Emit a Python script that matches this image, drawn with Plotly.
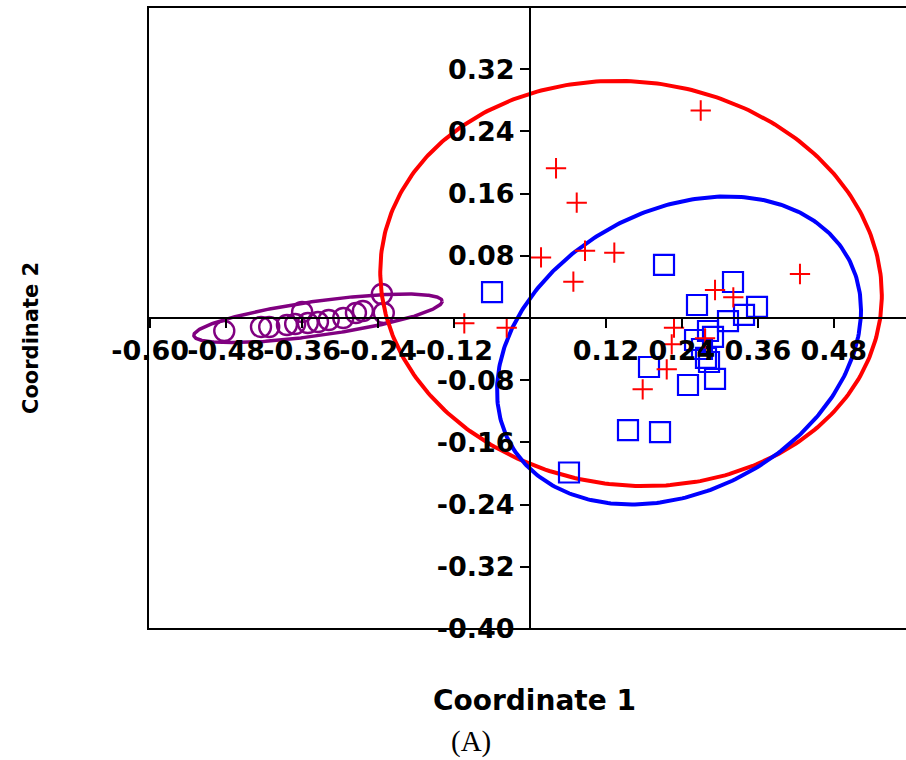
import numpy as np
import plotly.graph_objects as go

# ---- data ----
purple_x = [-0.483, -0.425, -0.412, -0.384, -0.371, -0.360, -0.351, -0.335, -0.318, -0.295, -0.275, -0.264, -0.234, -0.231]
purple_y = [-0.0167, -0.0116, -0.0116, -0.0090, -0.0077, 0.0077, -0.0064, -0.0051, -0.0026, 0.0000, 0.0064, 0.0090, 0.0309, 0.0064]

red_x = [0.2697, 0.0411, 0.0738, 0.0174, 0.0869, 0.1332, 0.0685, -0.1038, -0.0368, 0.4265, 0.2923, 0.3212, 0.2275, 0.2239, 0.2160, 0.1780, 0.2765]
red_y = [0.2669, 0.1926, 0.1483, 0.0779, 0.0865, 0.0840, 0.0467, -0.0069, -0.0125, 0.0566, 0.0360, 0.0266, -0.0125, -0.0338, -0.0660, -0.0917, -0.0261]

blue_x = [0.2117, -0.0600, 0.3207, 0.2638, 0.3586, 0.3381, 0.3128, 0.2812, 0.2607, 0.2891, 0.2780, 0.2828, 0.1880, 0.2923, 0.2496, 0.1548, 0.2054, 0.0616, 0.2717]
blue_y = [0.0682, 0.0334, 0.0463, 0.0167, 0.0142, 0.0039, -0.0039, -0.0167, -0.0283, -0.0244, -0.0514, -0.0566, -0.0630, -0.0784, -0.0862, -0.1441, -0.1467, -0.1987, -0.0399]

# ellipse parameters: center (x, y) and covariance (sxx, syy, sxy)
purple_center = [-0.3349, -0.0004]
purple_cov = [0.0385, 0.000977, 0.004287]
red_center = [0.1596, 0.0444]
red_cov = [0.15698, 0.0679, -0.005887]
blue_center = [0.2354, -0.0418]
blue_cov = [0.08267, 0.03923, 0.014955]

x_tickvals = [-0.60, -0.48, -0.36, -0.24, -0.12, 0.12, 0.24, 0.36, 0.48]
x_ticktext = ["-0.60", "-0.48", "-0.36", "-0.24", "-0.12", "0.12", "0.24", "0.36", "0.48"]
y_tickvals = [-0.40, -0.32, -0.24, -0.16, -0.08, 0.08, 0.16, 0.24, 0.32]
y_ticktext = ["-0.40", "-0.32", "-0.24", "-0.16", "-0.08", "0.08", "0.16", "0.24", "0.32"]

x_range = [-0.6035, 0.594]
y_range = [-0.40, 0.40]


def ellipse(center, cov, n=361):
    sxx, syy, sxy = cov
    l11 = np.sqrt(sxx)
    l21 = sxy / l11
    l22 = np.sqrt(syy - l21 ** 2)
    t = np.linspace(0, 2 * np.pi, n)
    u, v = np.cos(t), np.sin(t)
    return center[0] + l11 * u, center[1] + l21 * u + l22 * v


fig = go.Figure()

ex, ey = ellipse(purple_center, purple_cov)
fig.add_trace(go.Scatter(x=ex, y=ey, mode="lines", line=dict(color="#800080", width=3.5), hoverinfo="skip"))
fig.add_trace(go.Scatter(x=purple_x, y=purple_y, mode="markers",
                         marker=dict(symbol="circle-open", size=20, color="#800080", line=dict(width=2.4, color="#800080"))))

ex, ey = ellipse(red_center, red_cov)
fig.add_trace(go.Scatter(x=ex, y=ey, mode="lines", line=dict(color="#FF0000", width=4), hoverinfo="skip"))
ex, ey = ellipse(blue_center, blue_cov)
fig.add_trace(go.Scatter(x=ex, y=ey, mode="lines", line=dict(color="#0000FF", width=4), hoverinfo="skip"))

fig.add_trace(go.Scatter(x=blue_x, y=blue_y, mode="markers",
                         marker=dict(symbol="square-open", size=20, color="#0000FF", line=dict(width=2.2, color="#0000FF"))))
fig.add_trace(go.Scatter(x=red_x, y=red_y, mode="markers",
                         marker=dict(symbol="cross-thin-open", size=14.5, color="#FF0000", line=dict(width=2, color="#FF0000"))))

x_zero_pos = (0 - x_range[0]) / (x_range[1] - x_range[0])
y_zero_pos = (0 - y_range[0]) / (y_range[1] - y_range[0])

tick_font = dict(family="DejaVu Sans", size=27, color="black", weight="bold")

fig.update_layout(
    width=906, height=760,
    margin=dict(l=148, r=0, t=7, b=131),
    paper_bgcolor="white", plot_bgcolor="white",
    showlegend=False,
    xaxis=dict(range=x_range, anchor="free", position=y_zero_pos, showgrid=False, zeroline=False,
               showline=True, linecolor="black", linewidth=2,
               ticks="outside", ticklen=9, tickwidth=2, tickcolor="black",
               tickvals=x_tickvals, ticktext=x_ticktext, tickangle=0, tickfont=tick_font),
    yaxis=dict(range=y_range, anchor="free", position=x_zero_pos, showgrid=False, zeroline=False,
               showline=True, linecolor="black", linewidth=2,
               ticks="outside", ticklen=9, tickwidth=2, tickcolor="black",
               tickvals=y_tickvals, ticktext=y_ticktext, tickfont=tick_font),
)

# frame (right edge lies off the canvas, as in the reference)
fig.add_shape(type="rect", xref="paper", yref="paper", x0=0, x1=1.01, y0=0, y1=1,
              line=dict(color="black", width=2), layer="below")

fig.add_annotation(text="Coordinate 1", xref="paper", yref="paper", x=(534 - 148) / 758, y=(629 - 700) / 622,
                   showarrow=False, xanchor="center", yanchor="middle",
                   font=dict(family="DejaVu Sans", size=28, color="black", weight="bold"))
fig.add_annotation(text="Coordinate 2", xref="paper", yref="paper", x=(31 - 148) / 758, y=(629 - 338) / 622,
                   showarrow=False, xanchor="center", yanchor="middle", textangle=-90,
                   font=dict(family="DejaVu Sans", size=21, color="black", weight="bold"))
fig.add_annotation(text="(A)", xref="paper", yref="paper", x=(471 - 148) / 758, y=(629 - 741) / 622,
                   showarrow=False, xanchor="center", yanchor="middle",
                   font=dict(family="Liberation Serif", size=29, color="black"))

fig.write_html("out.html", config={"displayModeBar": False},
               post_script="document.body.style.margin='0';document.body.style.overflow='hidden';")
